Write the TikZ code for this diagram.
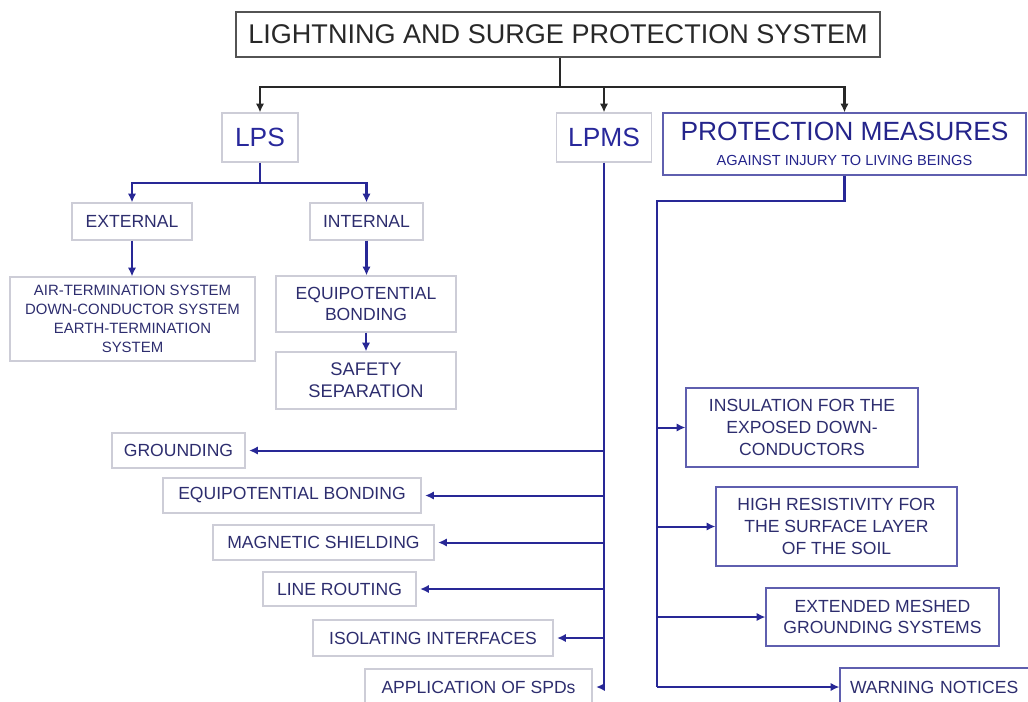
\documentclass[tikz,border=0pt]{standalone}
\usepackage{fontspec}
\setmainfont{Liberation Sans}
\usetikzlibrary{arrows.meta}
\definecolor{linkblue}{RGB}{40,40,150}
\definecolor{textnavy}{RGB}{45,45,110}
\definecolor{headblue}{RGB}{40,40,155}
\definecolor{boxgray}{RGB}{205,205,215}
\definecolor{boxblue}{RGB}{95,95,175}
\definecolor{titlegray}{RGB}{40,40,40}

\begin{document}
\begin{tikzpicture}[x=0.02cm,y=-0.02cm,
  sized/.style 2 args={minimum width=#1*0.02cm,minimum height=#2*0.02cm},
  lightbox/.style={draw=boxgray,line width=0.7pt,inner sep=0pt,align=center,text=textnavy,
    font=\fontsize{10pt}{12.4pt}\selectfont},
  bluebox/.style={lightbox,draw=boxblue},
  headbox/.style={lightbox,text=headblue,font=\fontsize{15pt}{18pt}\selectfont},
  link/.style={draw=linkblue,line width=1.15pt},
  arr/.style={link,-{Latex[length=5pt,width=4.8pt]}},
  ]
  \useasboundingbox (0,0) rectangle (1028,701);

  \node[draw=titlegray!80,line width=0.9pt,inner sep=0pt,text=titlegray,sized={644}{45},
    font=\fontsize{15.4pt}{18pt}\selectfont] (title) at (558,34.5) {LIGHTNING AND SURGE PROTECTION SYSTEM};

  \node[headbox,sized={76}{49}] (lps) at (260,137.5) {LPS};
  \node[headbox,sized={95}{49}] (lpms) at (604,137.5) {LPMS};
  \node[headbox,draw=boxblue,text=textnavy!80!blue,sized={363}{62}] (pm) at (844.5,144)
    {PROTECTION MEASURES\\[-4pt]{\fontsize{8.3pt}{10pt}\selectfont AGAINST INJURY TO LIVING BEINGS}};

  % LPS branch
  \node[lightbox,sized={120}{37}] (ext) at (132,221.5) {EXTERNAL};
  \node[lightbox,sized={113}{37}] (int) at (366.5,221.5) {INTERNAL};
  \node[lightbox,sized={245}{84},font=\fontsize{8.5pt}{10.8pt}\selectfont] (air) at (132.5,319)
    {AIR-TERMINATION SYSTEM\\DOWN-CONDUCTOR SYSTEM\\EARTH-TERMINATION\\SYSTEM};
  \node[lightbox,sized={180}{56}] (eqb) at (366,304) {EQUIPOTENTIAL\\BONDING};
  \node[lightbox,sized={180}{57},font=\fontsize{10.4pt}{12.6pt}\selectfont] (sep) at (366,380.5) {SAFETY\\SEPARATION};

  % LPMS branch
  \node[lightbox,sized={133}{35}] (gnd) at (178.5,450.5) {GROUNDING};
  \node[lightbox,sized={258}{35}] (eqp) at (292,495.5) {EQUIPOTENTIAL BONDING};
  \node[lightbox,sized={221}{35}] (mag) at (323.5,542.5) {MAGNETIC SHIELDING};
  \node[lightbox,sized={153}{34}] (rout) at (339.5,589) {LINE ROUTING};
  \node[lightbox,sized={240}{36}] (iso) at (433,638) {ISOLATING INTERFACES};
  \node[lightbox,sized={227}{36}] (spd) at (478.5,687) {APPLICATION OF SPDs};

  % protection measures branch
  \node[bluebox,sized={232}{79}] (ins) at (802,427.5) {INSULATION FOR THE\\EXPOSED DOWN-\\CONDUCTORS};
  \node[bluebox,sized={241}{79}] (res) at (836.5,526.5) {HIGH RESISTIVITY FOR\\THE SURFACE LAYER\\OF THE SOIL};
  \node[bluebox,sized={233}{58}] (mesh) at (882.5,617) {EXTENDED MESHED\\GROUNDING SYSTEMS};
  \node[bluebox,sized={200}{38},text width=180*0.02cm,align=left] (warn) at (940,687) {WARNING NOTICES};

  % connectors
  \coordinate (top) at (560,87);
  \draw[link,draw=titlegray] (title.south -| top) -- (top);
  \foreach \n in {lps,lpms,pm}
    \draw[arr,draw=titlegray] (top) -| (\n.north);

  \coordinate (lpsfork) at (260,183);
  \draw[link] (lps.south) -- (lpsfork);
  \foreach \n in {ext,int}
    \draw[arr] (lpsfork) -| (\n.north);
  \draw[arr] (ext.south) -- (ext.south |- air.north);
  \draw[arr] (int.south) -- (int.south |- eqb.north);
  \draw[arr] (eqb.south) -- (sep.north);

  \draw[link] (lpms.south) -- (lpms.south |- spd.east);
  \foreach \n in {gnd,eqp,mag,rout,iso,spd}
    \draw[arr,shorten >=2pt] (lpms.south |- \n.east) -- (\n.east);

  \coordinate (pmknee) at (844.5,201);
  \coordinate (pmtrunk) at (657,201);
  \draw[link] (pm.south) -- (pmknee) -- (pmtrunk) -- (pmtrunk |- warn.west);
  \foreach \n in {ins,res,mesh,warn}
    \draw[arr] (pmtrunk |- \n.west) -- (\n.west);
\end{tikzpicture}
\end{document}
